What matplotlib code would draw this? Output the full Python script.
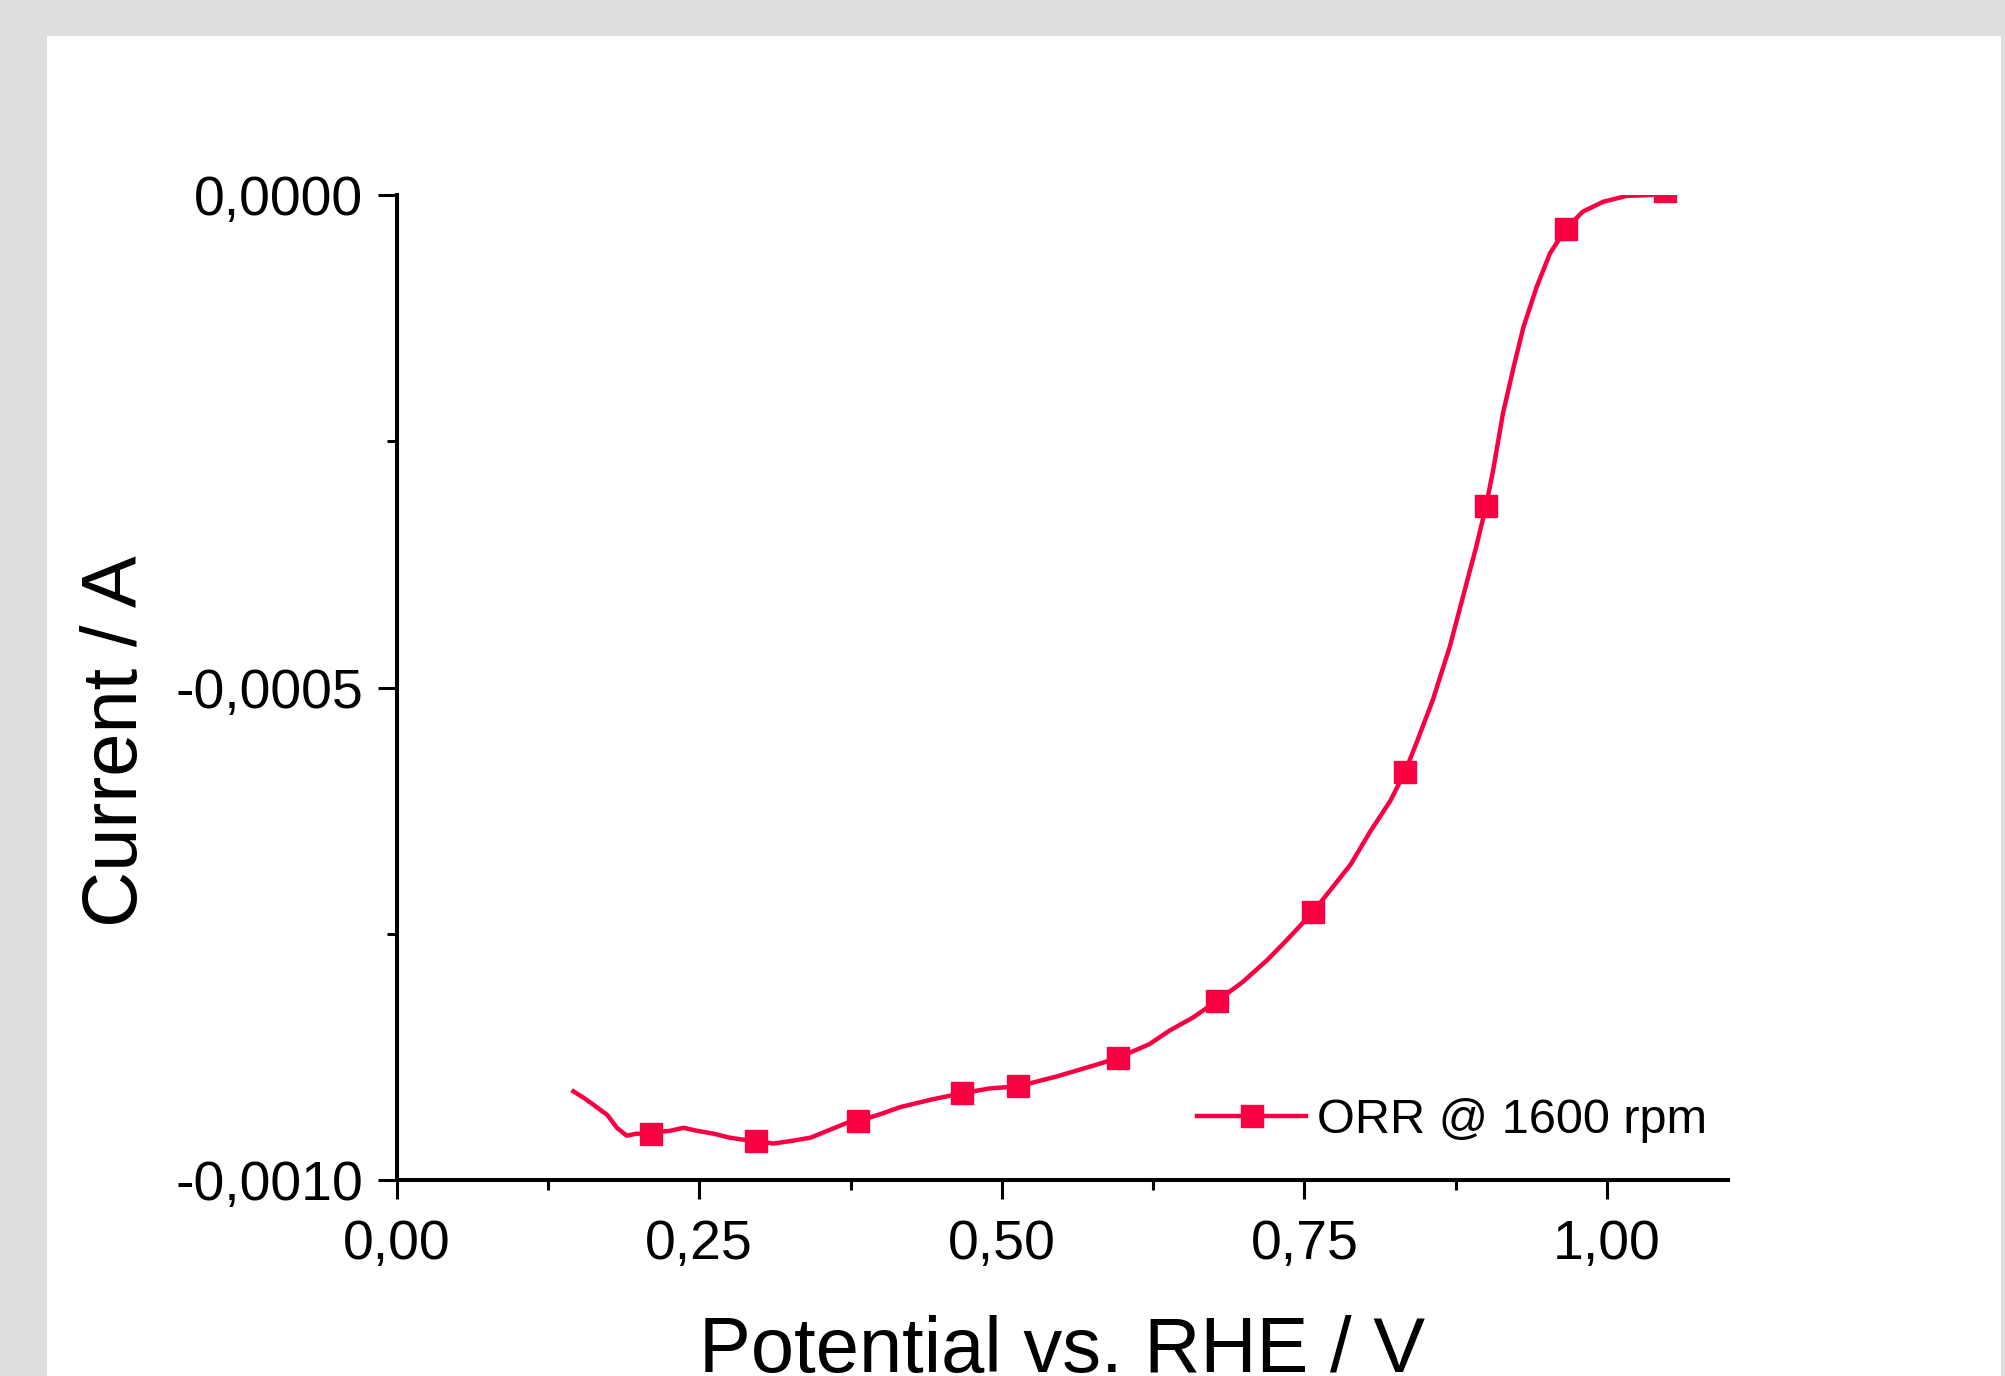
import matplotlib
matplotlib.use("Agg")
import matplotlib.pyplot as plt
from matplotlib.patches import Rectangle
from matplotlib.lines import Line2D
from matplotlib.ticker import MultipleLocator, FuncFormatter

plt.rcParams['font.family'] = ['Liberation Sans', 'DejaVu Sans']

# ORR polarisation curve (potential in V vs RHE, current in A)
potential = [0.146, 0.155, 0.163, 0.174, 0.182, 0.190, 0.198, 0.210, 0.218, 0.226,
             0.237, 0.248, 0.262, 0.275, 0.286, 0.297, 0.311, 0.328, 0.342, 0.358,
             0.372, 0.382, 0.400, 0.416, 0.443, 0.467, 0.490, 0.513, 0.545, 0.578,
             0.596, 0.622, 0.639, 0.658, 0.678, 0.699, 0.719, 0.735, 0.757, 0.788,
             0.804, 0.821, 0.833, 0.843, 0.856, 0.870, 0.881, 0.892, 0.900, 0.906,
             0.914, 0.923, 0.931, 0.942, 0.953, 0.966, 0.980, 0.997, 1.016, 1.036,
             1.048]
current = [-9.10e-4, -9.17e-4, -9.24e-4, -9.34e-4, -9.47e-4, -9.55e-4, -9.53e-4, -9.53e-4,
           -9.51e-4, -9.50e-4, -9.47e-4, -9.50e-4, -9.53e-4, -9.57e-4, -9.59e-4, -9.60e-4,
           -9.63e-4, -9.60e-4, -9.57e-4, -9.49e-4, -9.42e-4, -9.40e-4, -9.33e-4, -9.26e-4,
           -9.18e-4, -9.12e-4, -9.07e-4, -9.05e-4, -8.95e-4, -8.83e-4, -8.76e-4, -8.62e-4,
           -8.48e-4, -8.35e-4, -8.18e-4, -7.99e-4, -7.77e-4, -7.57e-4, -7.28e-4, -6.80e-4,
           -6.47e-4, -6.15e-4, -5.86e-4, -5.55e-4, -5.13e-4, -4.59e-4, -4.08e-4, -3.57e-4,
           -3.16e-4, -2.79e-4, -2.22e-4, -1.74e-4, -1.34e-4, -0.93e-4, -0.59e-4, -0.345e-4,
           -0.169e-4, -0.068e-4, -0.010e-4, 0.0, 0.02e-4]

# symbol positions drawn on the curve
mark_potential = [0.210, 0.297, 0.381, 0.467, 0.513, 0.596, 0.678, 0.757, 0.833, 0.900, 0.966, 1.048]
mark_current = [-9.53e-4, -9.60e-4, -9.40e-4, -9.12e-4, -9.05e-4, -8.76e-4, -8.18e-4,
                -7.28e-4, -5.86e-4, -3.16e-4, -0.345e-4, 0.04e-4]

series_label = 'ORR @ 1600 rpm'
color = '#f90043'

fig = plt.figure(figsize=(20.06, 13.76), dpi=100)
fig.patch.set_facecolor('#dddddd')
fig.patches.append(Rectangle((47.5 / 2006, 0), (2001 - 47.5) / 2006, 1340 / 1376,
                             transform=fig.transFigure, facecolor='white',
                             edgecolor='none', zorder=-10))

ax = fig.add_axes([0.19776, 0.14244, 0.66366, 0.71584])
ax.set_facecolor('none')

ax.plot(potential, current, color=color, lw=3.2, solid_joinstyle='round')
ax.plot(mark_potential, mark_current, ls='none', marker='s', ms=15.8, color=color)

ax.set_xlim(0, 1.1)
ax.set_ylim(-0.001, 0)

for side in ['top', 'right']:
    ax.spines[side].set_visible(False)
for side in ['left', 'bottom']:
    ax.spines[side].set_linewidth(2.9)

ax.xaxis.set_major_locator(MultipleLocator(0.25))
ax.xaxis.set_minor_locator(MultipleLocator(0.125))
ax.yaxis.set_major_locator(MultipleLocator(0.0005))
ax.yaxis.set_minor_locator(MultipleLocator(0.00025))

ax.xaxis.set_major_formatter(FuncFormatter(lambda v, p: f"{v:.2f}".replace('.', ',')))
ax.yaxis.set_major_formatter(FuncFormatter(
    lambda v, p: f"{(0.0 if abs(v) < 1e-12 else v):.4f}".replace('.', ',')))

ax.tick_params(which='major', direction='out', length=14, width=2.2, labelsize=40)
ax.tick_params(which='minor', direction='out', length=7, width=2.2)
ax.tick_params(axis='x', which='major', pad=14)
ax.tick_params(axis='y', which='major', pad=10)

ax.set_xlabel('Potential vs. RHE / V', fontsize=56, va='baseline')
ax.xaxis.set_label_coords(0.5, -0.1946)
ax.set_ylabel('Current / A', fontsize=56, va='baseline')
ax.yaxis.set_label_coords(-0.195, 0.446)

handle = Line2D([], [], color=color, lw=3.2, marker='s', ms=15.8)
ax.legend([handle], [series_label], loc='center left', bbox_to_anchor=(0.601, 0.060),
          frameon=False, fontsize=35, handlelength=2.25, handletextpad=0.22,
          borderpad=0, borderaxespad=0)

fig.savefig('out.png', dpi=100, facecolor=fig.get_facecolor())
